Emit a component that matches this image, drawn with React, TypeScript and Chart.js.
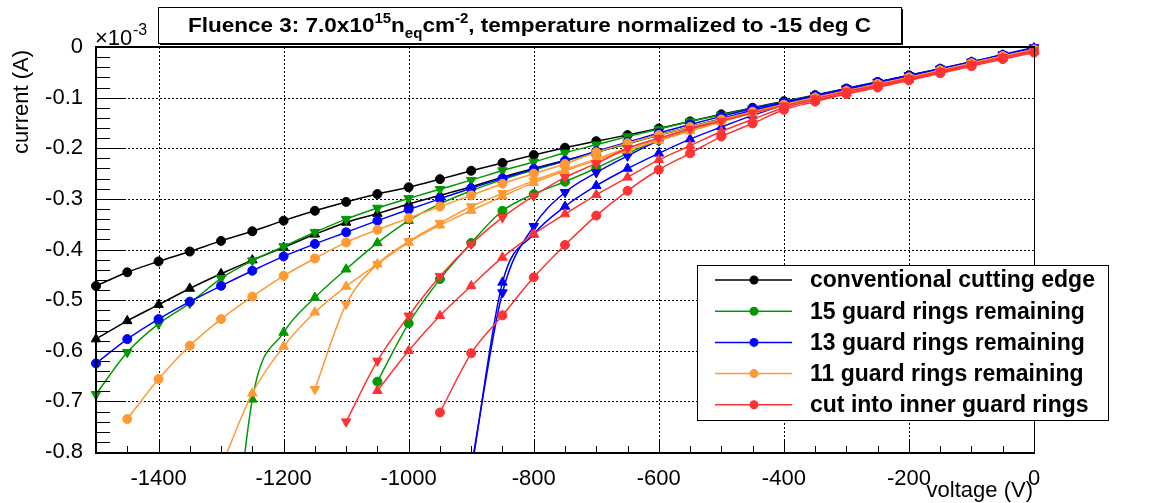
import React, { useEffect, useRef } from 'react';
import { Chart, registerables } from 'chart.js';

Chart.register(...registerables);

// ---------- data (current in units of 1e-3 A) ----------
const VOLTAGES = [
  -1500, -1450, -1400, -1350, -1300, -1250, -1200, -1150, -1100, -1050,
  -1000, -950, -900, -850, -800, -750, -700, -650, -600, -550,
  -500, -450, -400, -350, -300, -250, -200, -150, -100, -50, 0,
];

const X_TICKS = [-1400, -1200, -1000, -800, -600, -400, -200, 0];
const Y_TICKS = [0, -0.1, -0.2, -0.3, -0.4, -0.5, -0.6, -0.7, -0.8];

const BLACK_CIRCLE = [
  -0.472, -0.445, -0.4235, -0.404, -0.383, -0.364, -0.343, -0.3235, -0.306, -0.2905,
  -0.277, -0.261, -0.2445, -0.229, -0.2134, -0.199, -0.186, -0.174, -0.161, -0.147,
  -0.133, -0.12, -0.107, -0.095, -0.082, -0.069, -0.056, -0.043, -0.03, -0.016, -0.004,
];
const BLACK_UP = [
  -0.577, -0.541, -0.509, -0.477, -0.448, -0.421, -0.396, -0.37, -0.3465, -0.329,
  -0.31, -0.293, -0.276, -0.257, -0.24, -0.224, -0.208, -0.191, -0.174, -0.158,
  -0.142, -0.127, -0.113, -0.099, -0.086, -0.072, -0.059, -0.045, -0.031, -0.017, -0.005,
];
const GREEN_DOWN = [
  -0.686, -0.603, -0.547, -0.506, -0.457, -0.422, -0.394, -0.366, -0.34, -0.318,
  -0.299, -0.281, -0.263, -0.244, -0.227, -0.209, -0.193, -0.177, -0.162, -0.147,
  -0.134, -0.121, -0.108, -0.096, -0.083, -0.07, -0.057, -0.044, -0.031, -0.017, -0.004,
];
const GREEN_UP = [
  null, null, null, null, -1.25, -0.696, -0.564, -0.495, -0.439, -0.387,
  -0.343, -0.31, -0.284, -0.262, -0.243, -0.225, -0.208, -0.191, -0.174, -0.158,
  -0.142, -0.127, -0.113, -0.099, -0.086, -0.072, -0.059, -0.045, -0.032, -0.018, -0.005,
];
const GREEN_CIRCLE = [
  null, null, null, null, null, null, null, null, null, -0.661,
  -0.546, -0.4585, -0.387, -0.3235, -0.2905, -0.266, -0.239, -0.21, -0.184, -0.163,
  -0.145, -0.128, -0.114, -0.1, -0.086, -0.073, -0.06, -0.046, -0.032, -0.018, -0.005,
];
const BLUE_CIRCLE = [
  -0.625, -0.577, -0.5375, -0.503, -0.4717, -0.442, -0.4137, -0.389, -0.366, -0.343,
  -0.321, -0.3, -0.279, -0.2595, -0.241, -0.2246, -0.206, -0.188, -0.17, -0.153,
  -0.137, -0.122, -0.109, -0.096, -0.083, -0.07, -0.057, -0.044, -0.03, -0.016, -0.003,
];
const BLUE_UP = [
  null, null, null, null, null, null, null, null, null, null,
  null, null, -0.84, -0.465, -0.37, -0.315, -0.274, -0.24, -0.21, -0.182,
  -0.158, -0.135, -0.115, -0.099, -0.085, -0.071, -0.058, -0.044, -0.03, -0.016, -0.002,
];
const BLUE_DOWN = [
  null, null, null, null, null, null, null, null, null, null,
  null, null, -0.83, -0.485, -0.354, -0.287, -0.248, -0.215, -0.185, -0.162,
  -0.142, -0.125, -0.11, -0.096, -0.082, -0.069, -0.056, -0.043, -0.029, -0.015, -0.001,
];
const ORANGE_CIRCLE = [
  null, -0.735, -0.656, -0.59, -0.5375, -0.493, -0.452, -0.4177, -0.386, -0.361,
  -0.338, -0.315, -0.293, -0.27, -0.25, -0.231, -0.208, -0.19, -0.174, -0.158,
  -0.143, -0.128, -0.114, -0.1, -0.087, -0.073, -0.06, -0.046, -0.032, -0.018, -0.005,
];
const ORANGE_UP = [
  null, null, null, null, -0.83, -0.684, -0.5915, -0.524, -0.473, -0.429,
  -0.386, -0.352, -0.323, -0.295, -0.268, -0.245, -0.224, -0.204, -0.185, -0.166,
  -0.148, -0.131, -0.116, -0.101, -0.087, -0.074, -0.061, -0.047, -0.033, -0.019, -0.006,
];
const ORANGE_DOWN = [
  null, null, null, null, null, null, null, -0.676, -0.508, -0.429,
  -0.384, -0.348, -0.315, -0.289, -0.264, -0.242, -0.221, -0.2, -0.182, -0.163,
  -0.146, -0.13, -0.115, -0.1, -0.087, -0.073, -0.06, -0.046, -0.032, -0.018, -0.005,
];
const RED_DOWN = [
  null, null, null, null, null, null, null, null, -0.74, -0.62,
  -0.531, -0.453, -0.389, -0.3366, -0.294, -0.2575, -0.23, -0.2, -0.18, -0.162,
  -0.146, -0.13, -0.116, -0.102, -0.088, -0.075, -0.062, -0.048, -0.034, -0.02, -0.007,
];
const RED_UP = [
  null, null, null, null, null, null, null, null, null, -0.679,
  -0.6, -0.531, -0.472, -0.4157, -0.3696, -0.33, -0.292, -0.2575, -0.223, -0.195,
  -0.167, -0.143, -0.12, -0.105, -0.091, -0.077, -0.064, -0.05, -0.036, -0.022, -0.009,
];
const RED_CIRCLE = [
  null, null, null, null, null, null, null, null, null, null,
  null, -0.722, -0.605, -0.53, -0.455, -0.391, -0.333, -0.284, -0.2425, -0.21,
  -0.177, -0.151, -0.124, -0.108, -0.093, -0.08, -0.066, -0.052, -0.038, -0.024, -0.011,
];

const LEGEND_LABELS = [
  'conventional cutting edge',
  '15 guard rings remaining',
  '13 guard rings remaining',
  '11 guard rings remaining',
  'cut into inner guard rings',
];

const BLACK = '#000000';
const GREEN = '#009900';
const BLUE = '#0000ff';
const ORANGE = '#ff9933';
const RED = '#ff3333';
const LEGEND_COLORS = [BLACK, GREEN, BLUE, ORANGE, RED];

const FONT = '"Liberation Sans", Arial, Helvetica, sans-serif';

type Marker = 'circle' | 'up' | 'down';

function makeDataset(label: string, values: (number | null)[], color: string, marker: Marker, order: number) {
  const data = VOLTAGES.map((v, i) => ({ x: v, y: values[i] })).filter((p) => p.y !== null);
  return {
    label,
    data,
    borderColor: color,
    backgroundColor: color,
    pointBackgroundColor: color,
    pointBorderColor: color,
    borderWidth: 1.5,
    pointBorderWidth: 1,
    pointStyle: marker === 'circle' ? 'circle' : 'triangle',
    pointRotation: marker === 'down' ? 180 : 0,
    pointRadius: marker === 'circle' ? 4.5 : 5.5,
    pointHoverRadius: marker === 'circle' ? 4.5 : 5.5,
    cubicInterpolationMode: 'monotone' as const,
    fill: false,
    clip: { left: 12, top: 12, right: 12, bottom: 0 },
    order,
  };
}

const rootStyle = {
  id: 'rootStyle',
  beforeDatasetsDraw(chart: any) {
    const ctx = chart.ctx as CanvasRenderingContext2D;
    const { left, right, top, bottom } = chart.chartArea;
    const xs = chart.scales.x;
    const ys = chart.scales.y;
    ctx.save();
    ctx.strokeStyle = '#000';
    ctx.lineWidth = 1;
    ctx.setLineDash([2, 2]);
    X_TICKS.forEach((v) => {
      const px = Math.round(xs.getPixelForValue(v)) + 0.5;
      if (px > right - 2) return;
      ctx.beginPath();
      ctx.moveTo(px, top);
      ctx.lineTo(px, bottom);
      ctx.stroke();
    });
    Y_TICKS.forEach((v) => {
      const py = Math.round(ys.getPixelForValue(v)) + 0.5;
      if (py < top + 2 || py > bottom - 2) return;
      ctx.beginPath();
      ctx.moveTo(left, py);
      ctx.lineTo(right, py);
      ctx.stroke();
    });
    ctx.restore();
  },
  afterDraw(chart: any) {
    const ctx = chart.ctx as CanvasRenderingContext2D;
    const { left, right, top, bottom } = chart.chartArea;
    const xs = chart.scales.x;
    const ys = chart.scales.y;
    ctx.save();
    ctx.setLineDash([]);
    ctx.strokeStyle = '#000';
    ctx.fillStyle = '#000';

    // inner ticks on x axis (minor every 50 V)
    ctx.lineWidth = 1;
    for (let v = -1500; v <= 0; v += 50) {
      const px = Math.round(xs.getPixelForValue(v)) + 0.5;
      const major = v % 200 === 0;
      ctx.beginPath();
      ctx.moveTo(px, bottom);
      ctx.lineTo(px, bottom - (major ? 12 : 6));
      ctx.stroke();
    }
    // inner ticks on y axis (minor every 0.02)
    for (let i = 0; i <= 40; i++) {
      const v = -0.8 + i * 0.02;
      const py = Math.round(ys.getPixelForValue(v)) + 0.5;
      const major = i % 5 === 0;
      ctx.beginPath();
      ctx.moveTo(left, py);
      ctx.lineTo(left + (major ? 28 : 14), py);
      ctx.stroke();
    }

    // frame
    ctx.lineWidth = 1;
    ctx.beginPath();
    ctx.moveTo(Math.round(right) + 0.5, top);
    ctx.lineTo(Math.round(right) + 0.5, bottom);
    ctx.stroke();
    ctx.lineWidth = 2;
    ctx.beginPath();
    ctx.moveTo(left, top);
    ctx.lineTo(right + 1, top);
    ctx.stroke();
    ctx.beginPath();
    ctx.moveTo(left, top - 1);
    ctx.lineTo(left, bottom + 1);
    ctx.lineTo(right + 1, bottom + 1);
    ctx.stroke();

    // axis titles
    ctx.font = `22px ${FONT}`;
    ctx.textBaseline = 'alphabetic';
    ctx.textAlign = 'right';
    ctx.fillText('voltage (V)', 1033, 497);
    ctx.save();
    ctx.translate(28, 50);
    ctx.rotate(-Math.PI / 2);
    ctx.textAlign = 'right';
    ctx.fillText('current (A)', 0, 0);
    ctx.restore();

    // exponent
    ctx.textAlign = 'left';
    ctx.font = `22px ${FONT}`;
    ctx.fillText('\u00d710', 95, 45);
    ctx.font = `16px ${FONT}`;
    ctx.fillText('-3', 133, 35);

    // title box
    const bx = 158, by = 7, bw = 743, bh = 36;
    ctx.fillStyle = '#000';
    ctx.fillRect(bx + 2, by + 2, bw, bh);
    ctx.fillStyle = '#fff';
    ctx.fillRect(bx, by, bw, bh);
    ctx.strokeStyle = '#000';
    ctx.lineWidth = 1;
    ctx.strokeRect(bx + 0.5, by + 0.5, bw, bh);
    const parts = [
      { t: 'Fluence 3: 7.0x10', s: 21, dy: 0 },
      { t: '15', s: 14, dy: -9 },
      { t: 'n', s: 21, dy: 0 },
      { t: 'eq', s: 14, dy: 6 },
      { t: 'cm', s: 21, dy: 0 },
      { t: '-2', s: 14, dy: -9 },
      { t: ', temperature normalized to -15 deg C', s: 21, dy: 0 },
    ];
    let total = 0;
    const widths = parts.map((p) => {
      ctx.font = `bold ${p.s}px ${FONT}`;
      const w = ctx.measureText(p.t).width;
      total += w;
      return w;
    });
    const sc = 683 / total;
    ctx.save();
    ctx.translate(188, 32);
    ctx.scale(sc, 1);
    ctx.fillStyle = '#000';
    ctx.textAlign = 'left';
    let cx = 0;
    parts.forEach((p, i) => {
      ctx.font = `bold ${p.s}px ${FONT}`;
      ctx.fillText(p.t, cx, p.dy);
      cx += widths[i];
    });
    ctx.restore();

    // legend
    const lx = 697, ly = 265, lw = 411, lh = 155;
    ctx.fillStyle = '#fff';
    ctx.fillRect(lx, ly, lw, lh);
    ctx.strokeStyle = '#000';
    ctx.lineWidth = 1;
    ctx.strokeRect(lx + 0.5, ly + 0.5, lw, lh);
    ctx.font = `bold 23px ${FONT}`;
    ctx.textAlign = 'left';
    ctx.textBaseline = 'middle';
    LEGEND_LABELS.forEach((lab, i) => {
      const yy = 280 + i * 31.2;
      const col = LEGEND_COLORS[i];
      ctx.strokeStyle = col;
      ctx.lineWidth = 1.5;
      ctx.beginPath();
      ctx.moveTo(715, yy);
      ctx.lineTo(792, yy);
      ctx.stroke();
      ctx.fillStyle = col;
      ctx.beginPath();
      ctx.arc(754, yy, 4.5, 0, Math.PI * 2);
      ctx.fill();
      ctx.fillStyle = '#000';
      ctx.fillText(lab, 810, yy + 1);
    });
    ctx.restore();
  },
};

export default function App() {
  const ref = useRef<HTMLCanvasElement>(null);
  useEffect(() => {
    if (!ref.current) return;
    const datasets = [
      makeDataset(LEGEND_LABELS[0], BLACK_CIRCLE, BLACK, 'circle', 15),
      makeDataset(LEGEND_LABELS[0] + ' (2)', BLACK_UP, BLACK, 'up', 14),
      makeDataset(LEGEND_LABELS[1], GREEN_CIRCLE, GREEN, 'circle', 13),
      makeDataset(LEGEND_LABELS[1] + ' (2)', GREEN_UP, GREEN, 'up', 12),
      makeDataset(LEGEND_LABELS[1] + ' (3)', GREEN_DOWN, GREEN, 'down', 11),
      makeDataset(LEGEND_LABELS[2], BLUE_CIRCLE, BLUE, 'circle', 10),
      makeDataset(LEGEND_LABELS[2] + ' (2)', BLUE_UP, BLUE, 'up', 9),
      makeDataset(LEGEND_LABELS[2] + ' (3)', BLUE_DOWN, BLUE, 'down', 8),
      makeDataset(LEGEND_LABELS[3], ORANGE_CIRCLE, ORANGE, 'circle', 7),
      makeDataset(LEGEND_LABELS[3] + ' (2)', ORANGE_UP, ORANGE, 'up', 6),
      makeDataset(LEGEND_LABELS[3] + ' (3)', ORANGE_DOWN, ORANGE, 'down', 5),
      makeDataset(LEGEND_LABELS[4], RED_CIRCLE, RED, 'circle', 4),
      makeDataset(LEGEND_LABELS[4] + ' (2)', RED_UP, RED, 'up', 3),
      makeDataset(LEGEND_LABELS[4] + ' (3)', RED_DOWN, RED, 'down', 2),
    ];
    const chart = new Chart(ref.current, {
      type: 'line',
      data: { datasets: datasets as any },
      options: {
        responsive: false,
        animation: false,
        events: [],
        layout: { padding: { top: 47, right: 117, left: 0, bottom: 0 } },
        plugins: {
          legend: { display: false },
          tooltip: { enabled: false },
          title: { display: false },
        },
        scales: {
          x: {
            type: 'linear',
            min: -1500,
            max: 0,
            afterBuildTicks: (s: any) => {
              s.ticks = X_TICKS.map((v) => ({ value: v }));
            },
            afterFit: (s: any) => {
              s.height = 51;
            },
            ticks: {
              autoSkip: false,
              maxRotation: 0,
              minRotation: 0,
              color: '#000',
              padding: 6,
              font: { family: FONT, size: 22 },
              callback: (v: any) => String(v),
            },
            grid: { display: false },
            border: { display: false },
          },
          y: {
            type: 'linear',
            min: -0.8,
            max: 0,
            afterBuildTicks: (s: any) => {
              s.ticks = Y_TICKS.map((v) => ({ value: v }));
            },
            afterFit: (s: any) => {
              s.width = 96;
            },
            ticks: {
              autoSkip: false,
              color: '#000',
              padding: 5,
              font: { family: FONT, size: 22 },
              callback: (v: any) => {
                const r = Math.round(Number(v) * 10) / 10;
                return r === 0 ? '0' : String(r);
              },
            },
            grid: { display: false },
            border: { display: false },
          },
        },
      },
      plugins: [rootStyle],
    });
    return () => chart.destroy();
  }, []);
  return (
    <canvas
      ref={ref}
      width={1151}
      height={503}
      style={{ position: 'absolute', left: 0, top: 0, display: 'block' }}
    />
  );
}
